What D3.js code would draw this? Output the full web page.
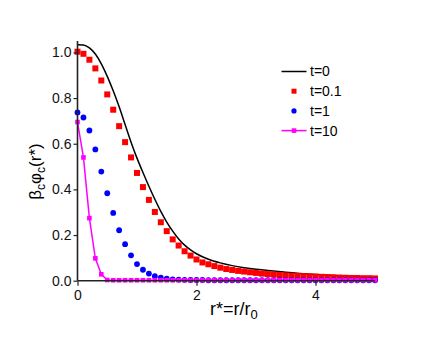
<!DOCTYPE html>
<html>
<head>
<meta charset="utf-8">
<script src="https://cdn.jsdelivr.net/npm/d3@7"></script>
<style>
    body { margin: 0; background: #fff; }
    text { font-family: "Liberation Sans", Arial, sans-serif; fill: #000; }
</style>
</head>
<body>
<div id="chart"></div>
<script>
// r* grid of the sampled series
const rGrid = [0, 0.1, 0.2, 0.3, 0.4, 0.5, 0.6, 0.7, 0.8, 0.9,
    1.0, 1.1, 1.2, 1.3, 1.4, 1.5, 1.6, 1.7, 1.8, 1.9,
    2.0, 2.1, 2.2, 2.3, 2.4, 2.5, 2.6, 2.7, 2.8, 2.9,
    3.0, 3.1, 3.2, 3.3, 3.4, 3.5, 3.6, 3.7, 3.8, 3.9,
    4.0, 4.1, 4.2, 4.3, 4.4, 4.5, 4.6, 4.7, 4.8, 4.9, 5.0];

// t=0 (solid line)
const t0R = [0, 0.1, 0.2, 0.3, 0.4, 0.5, 0.6, 0.7, 0.8, 0.9, 1.0, 1.1, 1.2, 1.3, 1.4, 1.5,
    1.6, 1.7, 1.8, 1.9, 2.0, 2.2, 2.4, 2.6, 2.8, 3.0, 3.2, 3.5, 4.0, 4.5, 5.0];
const t0Values = [1.034, 1.033, 1.02, 0.993, 0.95, 0.895, 0.832, 0.762, 0.684, 0.607, 0.537, 0.474,
    0.414, 0.357, 0.304, 0.257, 0.217, 0.183, 0.156, 0.135, 0.118, 0.094, 0.078, 0.066, 0.057,
    0.05, 0.045, 0.037, 0.027, 0.02, 0.014];

// t=0.1 (red squares)
const t01Values = [1.003, 0.994, 0.968, 0.93, 0.877, 0.816, 0.749, 0.677, 0.607, 0.54,
    0.472, 0.41, 0.354, 0.301, 0.256, 0.217, 0.181, 0.154, 0.129, 0.11,
    0.093, 0.08, 0.072, 0.064, 0.057, 0.051, 0.047, 0.043, 0.04, 0.037,
    0.034, 0.031, 0.029, 0.027, 0.025, 0.023, 0.022, 0.021, 0.02, 0.019,
    0.018, 0.017, 0.016, 0.015, 0.014, 0.013, 0.012, 0.012, 0.011, 0.011, 0.01];

// t=1 (blue circles)
const t1Values = [0.737, 0.715, 0.658, 0.575, 0.478, 0.383, 0.297, 0.221, 0.16, 0.111,
    0.073, 0.048, 0.031, 0.02, 0.013, 0.009, 0.006, 0.005, 0.004, 0.003,
    0.003, 0.003, 0.002, 0.002, 0.002, 0.002, 0.002, 0.002, 0.002, 0.002,
    0.002, 0.002, 0.002, 0.002, 0.002, 0.002, 0.002, 0.002, 0.002, 0.002,
    0.002, 0.002, 0.002, 0.002, 0.002, 0.002, 0.002, 0.002, 0.002, 0.002, 0.002];

// t=10 (magenta line + squares)
const t10Values = [0.695, 0.54, 0.274, 0.098, 0.028, 0.003, 0.002, 0.002, 0.002, 0.002,
    0.002, 0.002, 0.002, 0.002, 0.002, 0.002, 0.002, 0.002, 0.002, 0.002,
    0.002, 0.002, 0.002, 0.002, 0.002, 0.002, 0.002, 0.002, 0.002, 0.002,
    0.002, 0.002, 0.002, 0.002, 0.002, 0.002, 0.002, 0.002, 0.002, 0.002,
    0.002, 0.002, 0.002, 0.002, 0.002, 0.002, 0.002, 0.002, 0.002, 0.002, 0.002];

const xTicks = [0, 2, 4];
const yTicks = [0, 0.2, 0.4, 0.6, 0.8, 1.0];
const legendLabels = ['t=0', 't=0.1', 't=1', 't=10'];

const margin = { top: 41, right: 61, bottom: 56, left: 77.5 };
const width = 436 - margin.left - margin.right;
const height = 337 - margin.top - margin.bottom;

const svg = d3.select('#chart')
    .append('svg')
    .attr('width', 436)
    .attr('height', 337)
    .append('g')
    .attr('transform', 'translate(' + margin.left + ',' + margin.top + ')');

const x = d3.scaleLinear().domain([0, 5]).range([0, 297.5]);
const y = d3.scaleLinear().domain([0, 1.05]).range([239.7, 0]);

// t=0 line
const line0 = d3.line()
    .x((d, i) => x(t0R[i]))
    .y((d) => y(d))
    .curve(d3.curveMonotoneX);
svg.append('path')
    .datum(t0Values)
    .attr('d', line0)
    .style('stroke', '#000')
    .style('stroke-width', 1.5)
    .style('fill', 'none');

// t=0.1 squares
svg.append('g').selectAll('rect')
    .data(t01Values)
    .join('rect')
    .attr('x', (d, i) => x(rGrid[i]) - 3)
    .attr('y', (d) => y(d) - 3)
    .attr('width', 6)
    .attr('height', 6)
    .style('fill', '#ff0000');

// t=1 circles
svg.append('g').selectAll('circle')
    .data(t1Values)
    .join('circle')
    .attr('cx', (d, i) => x(rGrid[i]))
    .attr('cy', (d) => y(d))
    .attr('r', 2.9)
    .style('fill', '#0000ff');

// t=10 line + squares
const line10 = d3.line()
    .x((d, i) => x(rGrid[i]))
    .y((d) => y(d));
svg.append('path')
    .datum(t10Values)
    .attr('d', line10)
    .style('stroke', '#ff00ff')
    .style('stroke-width', 1.5)
    .style('fill', 'none');
svg.append('g').selectAll('rect')
    .data(t10Values)
    .join('rect')
    .attr('x', (d, i) => x(rGrid[i]) - 2.3)
    .attr('y', (d) => y(d) - 2.3)
    .attr('width', 4.6)
    .attr('height', 4.6)
    .style('fill', '#ff00ff');

// axes
const xAxis = svg.append('g')
    .attr('transform', 'translate(0,' + y(0) + ')')
    .call(d3.axisBottom(x).tickValues(xTicks).tickFormat(d3.format('d')).tickSize(5).tickPadding(4));
const yAxis = svg.append('g')
    .call(d3.axisLeft(y).tickValues(yTicks).tickFormat(d3.format('.1f')).tickSize(4).tickPadding(2));
[xAxis, yAxis].forEach((a) => {
    a.select('.domain').style('stroke', '#222').style('stroke-width', 1.6);
    a.selectAll('.tick line').style('stroke', '#222').style('stroke-width', 1.2);
    a.selectAll('.tick text').style('font-size', '14px').style('fill', '#111');
});
// x domain line spans the full 0..5 range; y domain line goes from 0 to 1.05
xAxis.select('.domain').attr('d', 'M' + x(0) + ',0H' + x(5));
yAxis.select('.domain').attr('d', 'M0,' + y(1.05) + 'V' + y(0));

// axis labels
const xLabel = svg.append('text')
    .attr('x', 210 - margin.left)
    .attr('y', 315 - margin.top)
    .style('font-size', '18px');
xLabel.append('tspan').text('r*=r/r');
xLabel.append('tspan').attr('dy', 4).style('font-size', '13px').text('0');

const yLabel = svg.append('text')
    .attr('transform', 'rotate(-90)')
    .attr('x', -(171.5 - margin.top))
    .attr('y', 41 - margin.left)
    .style('text-anchor', 'middle')
    .style('font-size', '17px');
yLabel.append('tspan').text('\u03b2');
yLabel.append('tspan').attr('dy', 4).style('font-size', '12px').text('c');
yLabel.append('tspan').attr('dy', -4).text('\u03c6');
yLabel.append('tspan').attr('dy', 4).style('font-size', '12px').text('c');
yLabel.append('tspan').attr('dy', -4).text('(r*)');

// legend
const legend = svg.append('g')
    .attr('transform', 'translate(' + (281.5 - margin.left) + ',' + (71.5 - margin.top) + ')');
legendLabels.forEach((label, i) => {
    const g = legend.append('g').attr('transform', 'translate(0,' + (i * 19.7) + ')');
    if (i === 0 || i === 3) {
        g.append('line')
            .attr('x1', 0).attr('x2', 25)
            .style('stroke', i === 0 ? '#000' : '#ff00ff')
            .style('stroke-width', 1.5);
    }
    if (i === 1) {
        g.append('rect').attr('x', 10).attr('y', -2.5).attr('width', 5).attr('height', 5).style('fill', '#ff0000');
    }
    if (i === 2) {
        g.append('circle').attr('cx', 12.5).attr('cy', 0).attr('r', 2.6).style('fill', '#0000ff');
    }
    if (i === 3) {
        g.append('rect').attr('x', 10.2).attr('y', -2.3).attr('width', 4.6).attr('height', 4.6).style('fill', '#ff00ff');
    }
    g.append('text')
        .attr('x', 28.5)
        .attr('dy', '0.35em')
        .style('font-size', '14px')
        .text(label);
});
</script>
</body>
</html>
